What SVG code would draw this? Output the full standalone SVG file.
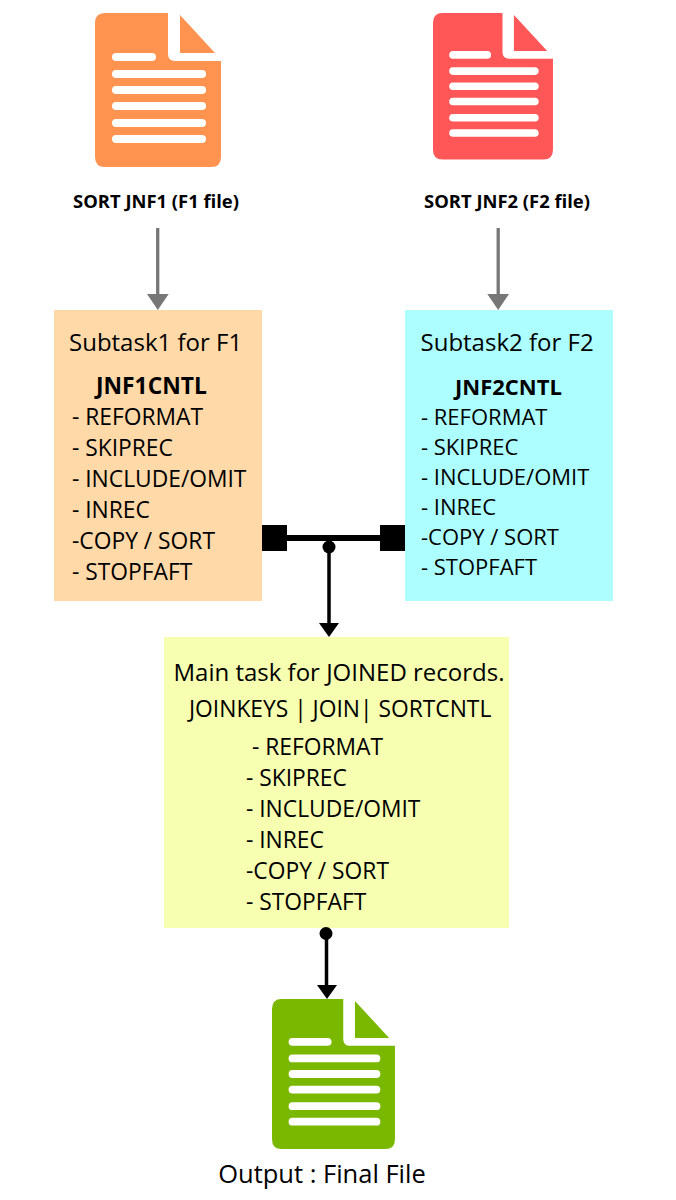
<svg xmlns="http://www.w3.org/2000/svg" width="676" height="1200" viewBox="0 0 676 1200">
<style>
text{font-family:"Open Sans","Noto Sans",sans-serif;fill:#000}
.b{font-size:22.8px}
.s{font-size:22px}
.t{font-size:24px}
.h{font-size:22.8px;font-weight:700}
.h2{font-size:22px;font-weight:700}
.c{font-size:18.4px;font-weight:700}
.o{font-size:25.5px}
.g{stroke:#777;stroke-width:3.300;fill:none}
.k{stroke:#000;stroke-width:3.500;fill:none}
</style>
<defs>
<g id="doc">
<path d="M10 0H73V41Q73 48 80 48H126V144Q126 154 116 154H10Q0 154 0 144V10Q0 0 10 0ZM85 2L120 40H85Z"/>
<g fill="#fff">
<rect x="17" y="40" width="44" height="8" rx="4"/>
<rect x="17" y="57" width="94" height="8" rx="4"/>
<rect x="17" y="73" width="94" height="8" rx="4"/>
<rect x="17" y="89" width="94" height="8" rx="4"/>
<rect x="17" y="106" width="94" height="8" rx="4"/>
<rect x="17" y="122" width="94" height="8" rx="4"/>
</g>
</g>
</defs>
<g id="file-f1"><use href="#doc" transform="translate(95 13)" fill="#ff934f"/><text class="c" x="156" y="208" text-anchor="middle">SORT JNF1 (F1 file)</text></g>
<g id="file-f2"><use href="#doc" transform="translate(433 13) scale(.952)" fill="#ff5757"/><text class="c" x="507" y="208" text-anchor="middle">SORT JNF2 (F2 file)</text></g>
<g id="subtask1"><rect x="54" y="310" width="208" height="291" fill="#ffd9a8"/>
<text class="t" x="69" y="351">Subtask1 for F1</text>
<text class="h" x="96" y="393.500">JNF1CNTL</text>
<text class="b" x="72" y="424.500">- REFORMAT</text>
<text class="b" x="72" y="455.500">- SKIPREC</text>
<text class="b" x="72" y="486.500">- INCLUDE/OMIT</text>
<text class="b" x="72" y="517.500">- INREC</text>
<text class="b" x="72" y="548.500">-COPY / SORT</text>
<text class="b" x="72" y="579.500">- STOPFAFT</text></g>
<g id="subtask2"><rect x="405" y="310" width="208" height="291" fill="#adffff"/>
<text class="t" x="420.500" y="351">Subtask2 for F2</text>
<text class="h2" x="455" y="395">JNF2CNTL</text>
<text class="s" x="421" y="425">- REFORMAT</text>
<text class="s" x="421" y="455">- SKIPREC</text>
<text class="s" x="421" y="485">- INCLUDE/OMIT</text>
<text class="s" x="421" y="515">- INREC</text>
<text class="s" x="421" y="545">-COPY / SORT</text>
<text class="s" x="421" y="575">- STOPFAFT</text></g>
<g id="main-task"><rect x="164" y="637" width="345" height="291" fill="#f7ffb0"/>
<text class="t" x="173.500" y="681">Main task for JOINED records.</text>
<text class="b" x="189" y="716.500">JOINKEYS | JOIN| SORTCNTL</text>
<text class="b" x="252" y="754.500">- REFORMAT</text>
<text class="b" x="246" y="785.500">- SKIPREC</text>
<text class="b" x="246" y="816.500">- INCLUDE/OMIT</text>
<text class="b" x="246" y="847.500">- INREC</text>
<text class="b" x="246" y="878.500">-COPY / SORT</text>
<text class="b" x="246" y="909.500">- STOPFAFT</text></g>
<g id="output"><use href="#doc" transform="translate(272 999) scale(.976 .974)" fill="#7ab800"/><text class="o" x="322" y="1183" text-anchor="middle">Output : Final File</text></g>
<g id="connectors">
<line class="g" x1="157.700" y1="228" x2="157.700" y2="296"/><path d="M147 294H168.700L157.800 310Z" fill="#777"/>
<line class="g" x1="498.200" y1="228" x2="498.200" y2="296"/><path d="M487.300 294H509L498.200 310Z" fill="#777"/>
<rect x="262" y="525" width="25" height="26"/><rect x="380" y="525" width="25" height="26"/>
<rect x="287" y="535" width="93" height="6"/>
<circle cx="329" cy="547" r="6.500"/>
<line class="k" x1="329" y1="547" x2="329" y2="625"/><path d="M319 623H339L329 637Z"/>
<circle cx="326" cy="933.500" r="6.500"/>
<line class="k" x1="326.500" y1="934" x2="326.500" y2="987"/><path d="M317 985H337L327 999Z"/>
</g>
</svg>
